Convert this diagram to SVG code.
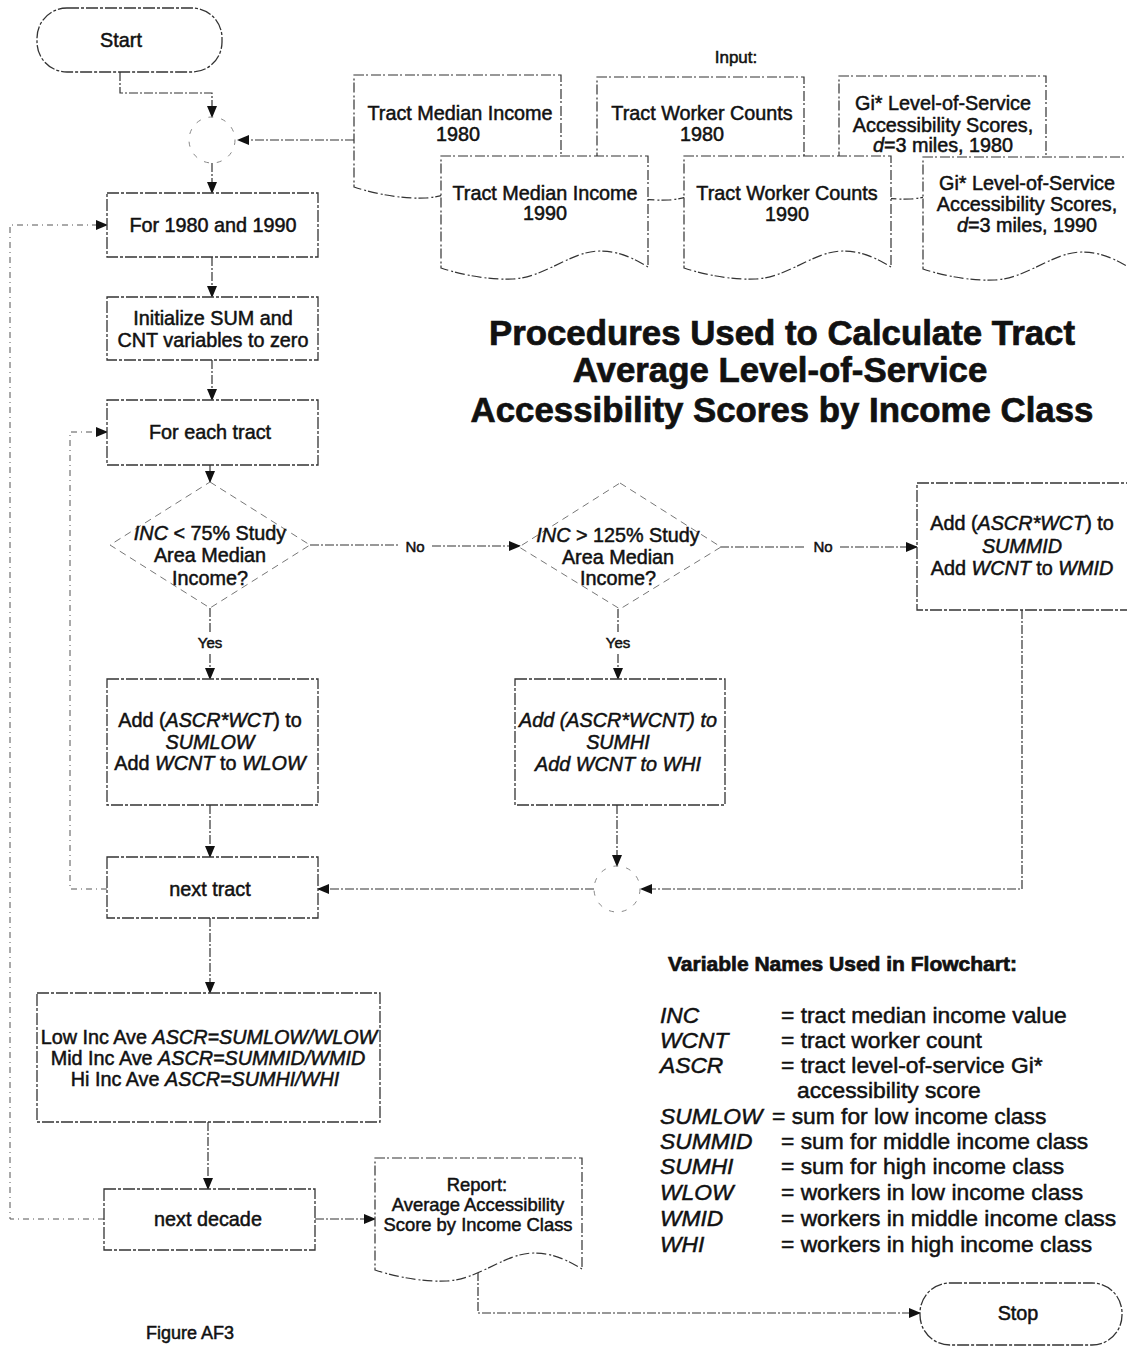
<svg xmlns="http://www.w3.org/2000/svg" xmlns:xlink="http://www.w3.org/1999/xlink" width="1127" height="1347" viewBox="0 0 1127 1347">
<style>
text{font-family:"Liberation Sans",Arial,sans-serif;fill:#111;stroke:#111;stroke-width:0.5;text-anchor:middle}
.t{font-size:19.8px}
.r{font-size:18.4px}
.s{font-size:15px}
.lg{font-size:22.8px;text-anchor:start}
.hd{font-weight:bold;stroke-width:0.7}
.i{font-style:italic}
.box{fill:#fff;stroke:#333;stroke-width:1.3;stroke-dasharray:12 2 3 2}
.doc{fill:#fff;stroke:#333;stroke-width:1.2;stroke-dasharray:10 2 2 3}
.dia{fill:#fff;stroke:#777;stroke-width:1;stroke-dasharray:7 5}
.cir{fill:none;stroke:#888;stroke-width:1;stroke-dasharray:5 8}
.ln{fill:none;stroke:#333;stroke-width:1.2;stroke-dasharray:9 2 2 2}
.lp{fill:none;stroke:#555;stroke-width:1;stroke-dasharray:6 4 1 4}
</style>
<defs>
<marker id="ah" markerWidth="12" markerHeight="10" refX="11" refY="5" orient="auto" markerUnits="userSpaceOnUse">
<path d="M0,0 L12,5 L0,10 Z" fill="#111"/>
</marker>
<path id="docshape" d="M0,0 H207 V111 C195,104 180,95 159,95 C130,95 105,121 72,123 C50,124 25,120 0,112 Z"/>
</defs>
<rect width="1127" height="1347" fill="#fff"/>

<g id="connectors">
<path class="ln" d="M120,72 V93 H212 V117" marker-end="url(#ah)"/>
<path class="ln" d="M354,140 H238" marker-end="url(#ah)"/>
<path class="ln" d="M212,163 V193" marker-end="url(#ah)"/>
<path class="ln" d="M212,257 V297" marker-end="url(#ah)"/>
<path class="ln" d="M212,360 V400" marker-end="url(#ah)"/>
<path class="ln" d="M210,465 V482" marker-end="url(#ah)"/>
<path class="ln" d="M310,545 H398 M432,546 H520" marker-end="url(#ah)"/>
<path class="ln" d="M720,547 H806 M840,547 H917" marker-end="url(#ah)"/>
<path class="ln" d="M210,608 V632 M210,654 V679" marker-end="url(#ah)"/>
<path class="ln" d="M618,609 V632 M618,654 V679" marker-end="url(#ah)"/>
<path class="ln" d="M1022,610 V889 H641" marker-end="url(#ah)"/>
<path class="ln" d="M617,805 V866" marker-end="url(#ah)"/>
<path class="ln" d="M594,889 H318" marker-end="url(#ah)"/>
<path class="ln" d="M210,805 V857" marker-end="url(#ah)"/>
<path class="lp" d="M107,889 H70 V432 H107" marker-end="url(#ah)"/>
<path class="ln" d="M210,918 V993" marker-end="url(#ah)"/>
<path class="ln" d="M208,1122 V1189" marker-end="url(#ah)"/>
<path class="lp" d="M104,1219 H10 V225 H107" marker-end="url(#ah)"/>
<path class="ln" d="M315,1219 H375" marker-end="url(#ah)"/>
<path class="ln" d="M478,1272 V1313 H920" marker-end="url(#ah)"/>
<text class="s" x="415" y="552">No</text>
<text class="s" x="823" y="552">No</text>
<text class="s" x="210" y="648">Yes</text>
<text class="s" x="618" y="648">Yes</text>
</g>

<g id="start">
<rect class="box" x="37" y="8" width="185" height="64" rx="30"/>
<text class="t" x="121" y="47">Start</text>
</g>

<g id="connector1">
<circle class="cir" cx="212" cy="140" r="23"/>
</g>

<g id="input-label">
<text style="font-size:17px" x="736" y="63">Input:</text>
</g>

<g id="doc-income-1980">
<use xlink:href="#docshape" class="doc" x="354" y="75"/>
<text class="t" x="460" y="120">Tract Median Income</text>
<text class="t" x="458" y="141">1980</text>
</g>
<g id="doc-workers-1980">
<use xlink:href="#docshape" class="doc" x="597" y="77"/>
<text class="t" x="702" y="120">Tract Worker Counts</text>
<text class="t" x="702" y="141">1980</text>
</g>
<g id="doc-access-1980">
<use xlink:href="#docshape" class="doc" x="839" y="76"/>
<text class="t" x="943" y="110">Gi* Level-of-Service</text>
<text class="t" x="943" y="132">Accessibility Scores,</text>
<text class="t" x="943" y="152"><tspan class="i">d</tspan>=3 miles, 1980</text>
</g>
<g id="doc-income-1990">
<use xlink:href="#docshape" class="doc" x="441" y="156"/>
<text class="t" x="545" y="200">Tract Median Income</text>
<text class="t" x="545" y="220">1990</text>
</g>
<g id="doc-workers-1990">
<use xlink:href="#docshape" class="doc" x="684" y="156"/>
<text class="t" x="787" y="200">Tract Worker Counts</text>
<text class="t" x="787" y="221">1990</text>
</g>
<g id="doc-access-1990">
<use xlink:href="#docshape" class="doc" x="923" y="157"/>
<text class="t" x="1027" y="190">Gi* Level-of-Service</text>
<text class="t" x="1027" y="211">Accessibility Scores,</text>
<text class="t" x="1027" y="232"><tspan class="i">d</tspan>=3 miles, 1990</text>
</g>

<g id="for-decade">
<rect class="box" x="107" y="193" width="211" height="64"/>
<text class="t" x="213" y="232">For 1980 and 1990</text>
</g>

<g id="initialize">
<rect class="box" x="107" y="297" width="211" height="63"/>
<text class="t" x="213" y="325">Initialize SUM and</text>
<text class="t" x="213" y="347">CNT variables to zero</text>
</g>

<g id="for-tract">
<rect class="box" x="107" y="400" width="211" height="65"/>
<text class="t" x="210" y="439">For each tract</text>
</g>

<g id="decision-low">
<path class="dia" d="M210,482 L310,545 L210,608 L110,545 Z"/>
<text class="t" x="210" y="540"><tspan class="i">INC</tspan> &lt; 75% Study</text>
<text class="t" x="210" y="562">Area Median</text>
<text class="t" x="210" y="585">Income?</text>
</g>

<g id="decision-high">
<path class="dia" d="M620,483 L721,547 L620,609 L519,547 Z"/>
<text class="t" x="618" y="542"><tspan class="i">INC</tspan> &gt; 125% Study</text>
<text class="t" x="618" y="564">Area Median</text>
<text class="t" x="618" y="585">Income?</text>
</g>

<g id="add-mid">
<rect class="box" x="917" y="483" width="215" height="127"/>
<text class="t" x="1022" y="530">Add (<tspan class="i">ASCR*WCT</tspan>) to</text>
<text class="t i" x="1022" y="553">SUMMID</text>
<text class="t" x="1022" y="575">Add <tspan class="i">WCNT</tspan> to <tspan class="i">WMID</tspan></text>
</g>

<g id="add-low">
<rect class="box" x="107" y="679" width="211" height="126"/>
<text class="t" x="210" y="727">Add (<tspan class="i">ASCR*WCT</tspan>) to</text>
<text class="t i" x="210" y="749">SUMLOW</text>
<text class="t" x="210" y="770">Add <tspan class="i">WCNT</tspan> to <tspan class="i">WLOW</tspan></text>
</g>

<g id="add-high">
<rect class="box" x="515" y="679" width="210" height="126"/>
<text class="t i" x="618" y="727">Add (ASCR*WCNT) to</text>
<text class="t i" x="618" y="749">SUMHI</text>
<text class="t i" x="618" y="771">Add WCNT to WHI</text>
</g>

<g id="connector2">
<circle class="cir" cx="617" cy="889" r="23"/>
</g>

<g id="next-tract">
<rect class="box" x="107" y="857" width="211" height="61"/>
<text class="t" x="210" y="896">next tract</text>
</g>

<g id="averages">
<rect class="box" x="37" y="993" width="343" height="129"/>
<text class="t" x="209" y="1044">Low Inc Ave <tspan class="i">ASCR=SUMLOW/WLOW</tspan></text>
<text class="t" x="208" y="1065">Mid Inc Ave <tspan class="i">ASCR=SUMMID/WMID</tspan></text>
<text class="t" x="205" y="1086">Hi Inc Ave <tspan class="i">ASCR=SUMHI/WHI</tspan></text>
</g>

<g id="next-decade">
<rect class="box" x="104" y="1189" width="211" height="61"/>
<text class="t" x="208" y="1226">next decade</text>
</g>

<g id="report">
<use xlink:href="#docshape" class="doc" x="375" y="1158"/>
<text class="r" x="477" y="1191">Report:</text>
<text class="r" x="478" y="1211">Average Accessibility</text>
<text class="r" x="478" y="1231">Score by Income Class</text>
</g>

<g id="stop">
<rect class="box" x="920" y="1283" width="202" height="62" rx="30"/>
<text class="t" x="1018" y="1320">Stop</text>
</g>

<g id="title">
<text class="hd" style="font-size:34.8px" x="782" y="345">Procedures Used to Calculate Tract</text>
<text class="hd" style="font-size:34.8px" x="780" y="382">Average Level-of-Service</text>
<text class="hd" style="font-size:34.8px" x="782" y="422">Accessibility Scores by Income Class</text>
</g>

<g id="legend">
<text class="lg hd" style="font-size:21px" x="668" y="971">Variable Names Used in Flowchart:</text>
<text class="lg i" x="660" y="1023">INC</text><text class="lg" x="781" y="1023">= tract median income value</text>
<text class="lg i" x="660" y="1048">WCNT</text><text class="lg" x="781" y="1048">= tract worker count</text>
<text class="lg i" x="660" y="1073">ASCR</text><text class="lg" x="781" y="1073">= tract level-of-service Gi*</text>
<text class="lg" x="797" y="1098">accessibility score</text>
<text class="lg i" x="660" y="1124">SUMLOW</text><text class="lg" x="772" y="1124">= sum for low income class</text>
<text class="lg i" x="660" y="1149">SUMMID</text><text class="lg" x="781" y="1149">= sum for middle income class</text>
<text class="lg i" x="660" y="1174">SUMHI</text><text class="lg" x="781" y="1174">= sum for high income class</text>
<text class="lg i" x="660" y="1200">WLOW</text><text class="lg" x="781" y="1200">= workers in low income class</text>
<text class="lg i" x="660" y="1226">WMID</text><text class="lg" x="781" y="1226">= workers in middle income class</text>
<text class="lg i" x="660" y="1252">WHI</text><text class="lg" x="781" y="1252">= workers in high income class</text>
</g>

<g id="caption">
<text style="font-size:18px" x="190" y="1339">Figure AF3</text>
</g>
</svg>
